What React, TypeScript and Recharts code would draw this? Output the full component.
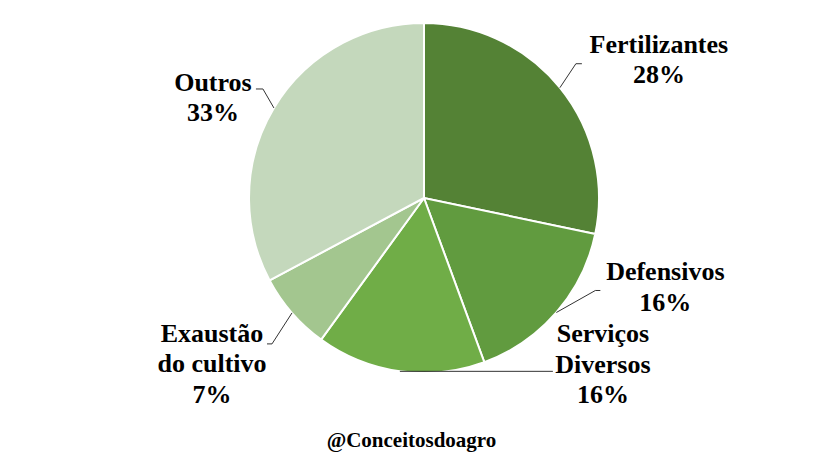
import { PieChart, Pie, Cell } from 'recharts'

const categories = ['Fertilizantes', 'Defensivos', 'Serviços Diversos', 'Exaustão do cultivo', 'Outros']
const shares = [28.3, 16.1, 15.6, 7.2, 32.8]
const labelLines = [['Fertilizantes'], ['Defensivos'], ['Serviços', 'Diversos'], ['Exaustão', 'do cultivo'], ['Outros']]
const colors = ['#548235', '#619b3f', '#70ad47', '#a3c68f', '#c4d8bc']
const source = '@Conceitosdoagro'

const data = categories.map((name, i) => ({ name, value: shares[i] }))

// leader + text placement relative to the slice's edge point
const labelLayout = [
  { leader: [[16, -24], [22, -24]], tx: 99, ty: -35 },
  { leader: [[39, -22], [44, -22]], tx: 109, ty: -32 },
  { leader: [[153, 0]], tx: 203, ty: -29 },
  { leader: [[-20, 31], [-25, 31]], tx: -80, ty: 29 },
  { leader: [[-11, -19], [-18, -19]], tx: -61, ty: -17 },
]

const RAD = Math.PI / 180
const font = '"Liberation Serif", "Times New Roman", serif'

function renderLabel(props: any) {
  const { cx, cy, midAngle, outerRadius, index, percent } = props
  const ex = cx + outerRadius * Math.cos(-midAngle * RAD)
  const ey = cy + outerRadius * Math.sin(-midAngle * RAD)
  const lay = labelLayout[index]
  const pts = [[ex, ey], ...lay.leader.map(([dx, dy]) => [ex + dx, ey + dy])]
  const lines = [...labelLines[index], `${Math.round(percent * 100)}%`]
  return (
    <g key={`lbl-${index}`}>
      <polyline
        points={pts.map((p) => p.join(',')).join(' ')}
        fill="none"
        stroke="#333"
        strokeWidth={1}
      />
      <text
        x={ex + lay.tx}
        y={ey + lay.ty}
        textAnchor="middle"
        fontFamily={font}
        fontWeight="bold"
        fontSize={26}
        fill="#000"
      >
        {lines.map((l, i) => (
          <tspan key={i} x={ex + lay.tx} dy={i === 0 ? 0 : 30.5}>
            {l}
          </tspan>
        ))}
      </text>
    </g>
  )
}

export default function App() {
  return (
    <div style={{ position: 'absolute', left: 0, top: 0, width: 823, height: 463, background: '#fff' }}>
      <PieChart width={823} height={463} margin={{ top: 0, right: 0, bottom: 0, left: 0 }}>
        <Pie
          data={data}
          dataKey="value"
          nameKey="name"
          cx={424}
          cy={198}
          outerRadius={175}
          startAngle={90}
          endAngle={-270}
          stroke="#fff"
          strokeWidth={2}
          label={renderLabel}
          labelLine={false}
          isAnimationActive={false}
        >
          {data.map((d, i) => (
            <Cell key={d.name} fill={colors[i]} />
          ))}
        </Pie>
      </PieChart>
      <div
        style={{
          position: 'absolute',
          left: 0,
          top: 430,
          width: 823,
          textAlign: 'center',
          fontFamily: font,
          fontWeight: 'bold',
          fontSize: 21,
          lineHeight: '21px',
        }}
      >
        {source}
      </div>
    </div>
  )
}
